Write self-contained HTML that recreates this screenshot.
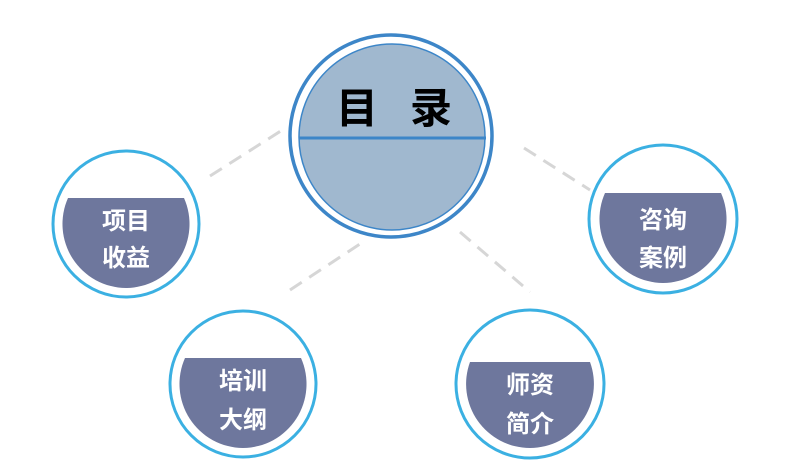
<!DOCTYPE html>
<html><head><meta charset="utf-8"><style>
html,body{margin:0;padding:0;background:#fff;width:800px;height:467px;overflow:hidden}
svg{display:block}
text{font-family:"Liberation Sans","Noto Sans CJK SC",sans-serif;font-weight:bold}
</style></head><body>
<svg width="800" height="467" viewBox="0 0 800 467">
<g stroke="#d6d6d6" stroke-width="3" stroke-dasharray="14 9" fill="none">
<line x1="210" y1="176" x2="287" y2="127"/>
<line x1="524" y1="148" x2="590" y2="190"/>
<line x1="290" y1="290" x2="366" y2="240"/>
<line x1="460" y1="232" x2="530" y2="292"/>
</g>
<circle cx="391" cy="136" r="101" fill="#fff" stroke="#3d86c8" stroke-width="3.5"/>
<circle cx="392" cy="137" r="93" fill="#a0b8cf" stroke="#3d86c8" stroke-width="1.5"/>
<line x1="299" y1="138" x2="486" y2="138" stroke="#3d86c8" stroke-width="3"/>
<text x="336" y="123" font-size="42" fill="#000">目</text>
<text x="410" y="123" font-size="42" fill="#000">录</text>

<g>
<circle cx="126" cy="224" r="73" fill="#fff" stroke="#3bb0e2" stroke-width="3"/>
<path d="M68 198 L184 198 A64 64 0 0 1 126 288 A64 64 0 0 1 68 198 Z" fill="#6e779d"/>
<text x="126" y="229" font-size="24" fill="#fff" text-anchor="middle">项目</text>
<text x="126" y="266" font-size="24" fill="#fff" text-anchor="middle">收益</text>
</g>
<g>
<circle cx="663" cy="219" r="74" fill="#fff" stroke="#3bb0e2" stroke-width="3"/>
<path d="M605 193 L721 193 A64 64 0 0 1 663 283 A64 64 0 0 1 605 193 Z" fill="#6e779d"/>
<text x="663" y="228" font-size="24" fill="#fff" text-anchor="middle">咨询</text>
<text x="663" y="266" font-size="24" fill="#fff" text-anchor="middle">案例</text>
</g>
<g>
<circle cx="243" cy="384" r="73" fill="#fff" stroke="#3bb0e2" stroke-width="3"/>
<path d="M185 358 L301 358 A64 64 0 0 1 243 448 A64 64 0 0 1 185 358 Z" fill="#6e779d"/>
<text x="243" y="389" font-size="24" fill="#fff" text-anchor="middle">培训</text>
<text x="243" y="428" font-size="24" fill="#fff" text-anchor="middle">大纲</text>
</g>
<g>
<circle cx="530" cy="384" r="74" fill="#fff" stroke="#3bb0e2" stroke-width="3"/>
<path d="M470 362 L590 362 A64 64 0 0 1 530 448 A64 64 0 0 1 470 362 Z" fill="#6e779d"/>
<text x="530" y="393" font-size="24" fill="#fff" text-anchor="middle">师资</text>
<text x="530" y="432" font-size="24" fill="#fff" text-anchor="middle">简介</text>
</g>
</svg>
</body></html>
